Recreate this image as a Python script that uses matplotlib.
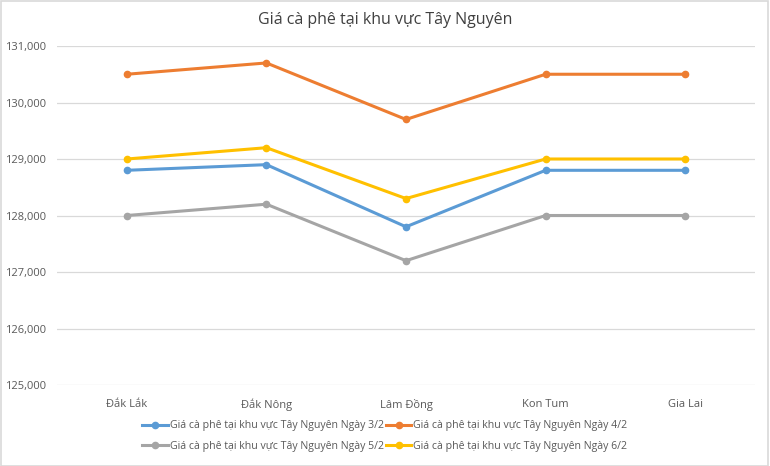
import numpy as np
import matplotlib.pyplot as plt
from matplotlib.patches import Rectangle

plt.rcParams['font.family'] = ['Open Sans', 'DejaVu Sans']

provinces = ['Đắk Lắk', 'Đắk Nông', 'Lâm Đồng', 'Kon Tum', 'Gia Lai']
series_names = ['Giá cà phê tại khu vực Tây Nguyên Ngày 3/2',
                'Giá cà phê tại khu vực Tây Nguyên Ngày 4/2',
                'Giá cà phê tại khu vực Tây Nguyên Ngày 5/2',
                'Giá cà phê tại khu vực Tây Nguyên Ngày 6/2']
day_3 = [128800, 128900, 127800, 128800, 128800]
day_4 = [130500, 130700, 129700, 130500, 130500]
day_5 = [128000, 128200, 127200, 128000, 128000]
day_6 = [129000, 129200, 128300, 129000, 129000]
colors = ['#5B9BD5', '#ED7D31', '#A5A5A5', '#FFC000']

fig = plt.figure(figsize=(7.7, 4.66), dpi=100)
ax = fig.add_axes([57/770, 1 - 385/466, 698/770, (385 - 46)/466])

x = np.arange(len(provinces))
for vals, name, c in zip([day_3, day_4, day_5, day_6], series_names, colors):
    ax.plot(x, vals, color=c, lw=2.2, marker='o', ms=4.5, label=name,
            solid_joinstyle='round')

ax.set_xlim(-0.5, len(provinces) - 0.5)
ax.set_ylim(125000, 131000)
ax.set_yticks(np.arange(125000, 131001, 1000))
ax.yaxis.set_major_formatter(plt.FuncFormatter(lambda v, p: f'{int(v):,}'))
ax.set_xticks(x)
ax.set_xticklabels(provinces)
ax.grid(axis='y', color='#D9D9D9', lw=0.9)
ax.set_axisbelow(True)
for s in ax.spines.values():
    s.set_visible(False)
ax.tick_params(length=0, labelsize=8, colors='#595959', pad=10)
ax.tick_params(axis='y', pad=8)

fig.text(0.5, 1 - 20/466, 'Giá cà phê tại khu vực Tây Nguyên', ha='center', va='center',
         fontsize=11.5, color='#404040')

# legend order: row-wise two columns
handles, labels = ax.get_legend_handles_labels()
order = [0, 2, 1, 3]
leg = fig.legend([handles[i] for i in order], [labels[i] for i in order],
                 ncol=2, loc='center', bbox_to_anchor=(0.5, 1 - 436/466),
                 frameon=False, fontsize=7.6, handlelength=2.4, handletextpad=0.2,
                 columnspacing=0.2, labelspacing=0.9, labelcolor='#595959')

fig.patches.append(Rectangle((0.001, 0.001), 0.997, 0.997, transform=fig.transFigure,
                             fill=False, edgecolor='#D9D9D9', lw=1.2))

fig.savefig('out.png', dpi=100)
